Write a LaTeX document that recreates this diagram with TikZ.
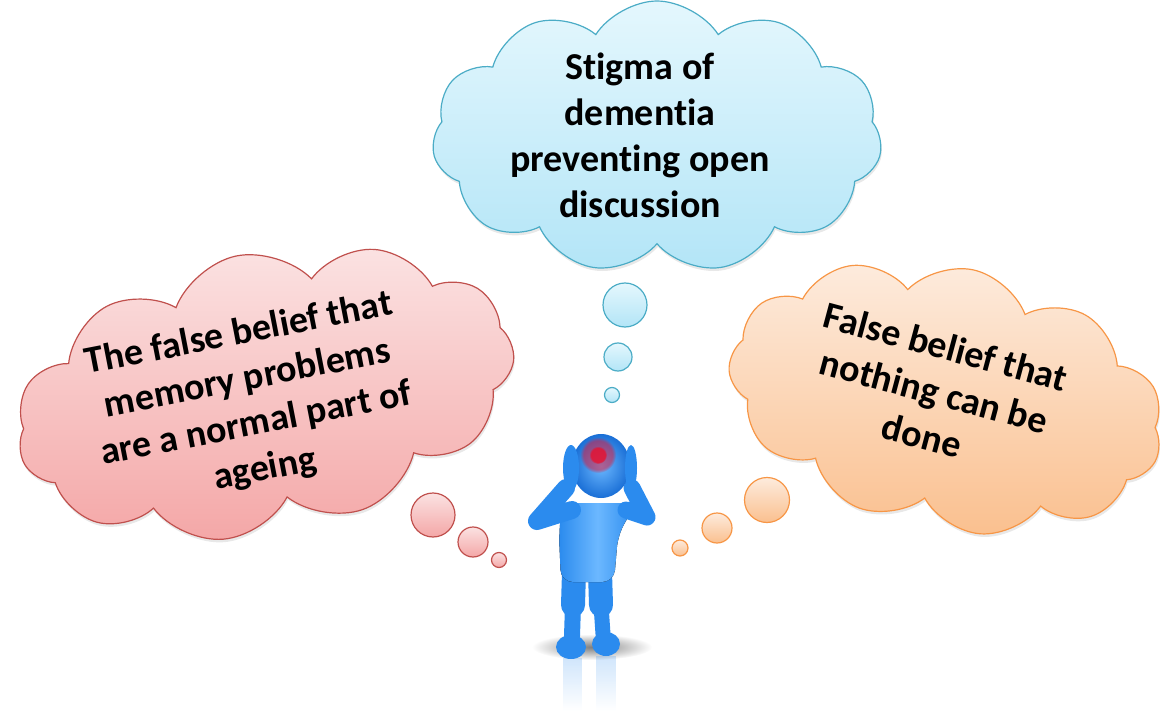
\documentclass[tikz,border=0pt]{standalone}
\usepackage{fontspec}
\setmainfont{Carlito}[Ligatures=NoCommon]
\usetikzlibrary{shapes.symbols,shadows,fadings}
\definecolor{AquaLine}{HTML}{4BACC6}
\definecolor{AquaTop}{HTML}{E4F7FD}
\definecolor{AquaBottom}{HTML}{B3E5F7}
\definecolor{RoseLine}{HTML}{C0504D}
\definecolor{RoseTop}{HTML}{FBE2E2}
\definecolor{RoseBottom}{HTML}{F4A7A7}
\definecolor{PeachLine}{HTML}{F79646}
\definecolor{PeachTop}{HTML}{FDEBDD}
\definecolor{PeachBottom}{HTML}{FAC08F}
\definecolor{Body}{HTML}{2B8BEE}
\definecolor{BodyLight}{HTML}{6CB8FF}
\definecolor{BodyDark}{HTML}{1A6FD6}
\definecolor{Ache}{HTML}{E8102E}

\begin{document}
\begin{tikzpicture}[x=1pt,y=1pt,font=\bfseries\fontsize{38}{46}\selectfont,
  thought/.style={cloud,cloud puffs=11,cloud puff arc=115,inner sep=0pt,line width=1.2pt,
    drop shadow={shadow xshift=1pt,shadow yshift=-3pt,opacity=.18}},
  bubble/.style={circle,inner sep=0pt,line width=1.2pt},
  words/.style={align=center,text=black,inner sep=0pt},
  aqua/.style={draw=AquaLine,top color=AquaTop,bottom color=AquaBottom},
  rose/.style={draw=RoseLine,top color=RoseTop,bottom color=RoseBottom},
  peach/.style={draw=PeachLine,top color=PeachTop,bottom color=PeachBottom},
  limb/.style={line cap=round,line join=round,draw=Body}]
 \useasboundingbox (0,0) rectangle (1167,-711);

 % the three clouds
 \node[thought,aqua,minimum width=450,minimum height=272,aspect=1.65] (stigma) at (657,-137) {};
 \node[words] (stigma text) at (640,-135) {Stigma of\\dementia\\preventing open\\discussion};
 \node[thought,rose,minimum width=505,minimum height=280,aspect=1.8,rotate=12] (ageing) at (265,-393) {};
 \node[words,rotate=11] (ageing text) at (252,-402) {The false belief that\\memory problems\\are a normal part of\\ageing};
 \node[thought,peach,minimum width=440,minimum height=262,aspect=1.7,rotate=-12] (nothing) at (946,-398) {};
 \node[words,rotate=-15] (nothing text) at (934,-391) {False belief that\\nothing can be\\done};

 % thought bubbles
 \node[bubble,aqua,minimum size=44] (s1) at (625,-305) {};
 \node[bubble,aqua,minimum size=28] (s2) at (618,-357) {};
 \node[bubble,aqua,minimum size=15] (s3) at (612,-395) {};
 \node[bubble,rose,minimum size=44] (a1) at (433,-515) {};
 \node[bubble,rose,minimum size=30] (a2) at (473,-542) {};
 \node[bubble,rose,minimum size=15] (a3) at (499,-560) {};
 \node[bubble,peach,minimum size=45] (n1) at (767,-500) {};
 \node[bubble,peach,minimum size=30] (n2) at (717,-528) {};
 \node[bubble,peach,minimum size=16] (n3) at (680,-548) {};

 % the figure holding its head
 \shade[inner color=black!50,outer color=white] (592,-647) ellipse (60 and 13);
 \fill[Body,opacity=.22,path fading=south] (563,-658) rectangle (582,-711);
 \fill[Body,opacity=.22,path fading=south] (596,-656) rectangle (616,-711);
 \draw[limb,line width=24] (574,-572) -- (573,-605);
 \draw[limb,line width=16] (573,-605) -- (572,-636);
 \draw[limb,line width=24] (600,-572) -- (601,-605);
 \draw[limb,line width=15] (601,-605) -- (603,-634);
 \fill[Body] (571,-647) ellipse (15 and 12);
 \fill[Body] (606,-644) ellipse (14 and 12);
 \fill[left color=Body,right color=Body,middle color=BodyLight,rounded corners=12]
  (562,-503) -- (636,-503) -- (618,-535) -- (614,-582) -- (561,-582) -- (559,-535) -- cycle;
 \draw[limb,line width=18] (572,-510) -- (537,-521) -- (566,-488);
 \draw[limb,line width=17] (626,-510) -- (647,-517) -- (632,-488);
 \shade[inner color=BodyLight,outer color=BodyDark] (601,-466) ellipse (29 and 32);
 \fill[Ache,opacity=.5,path fading=circle with fuzzy edge 20 percent] (598,-455) circle (18);
 \fill[Ache,opacity=.8,path fading=circle with fuzzy edge 20 percent] (598,-455) circle (9);
 \fill[Body] (571,-468) ellipse (8 and 23);
 \fill[Body] (631,-468) ellipse (6 and 23);
\end{tikzpicture}
\end{document}
